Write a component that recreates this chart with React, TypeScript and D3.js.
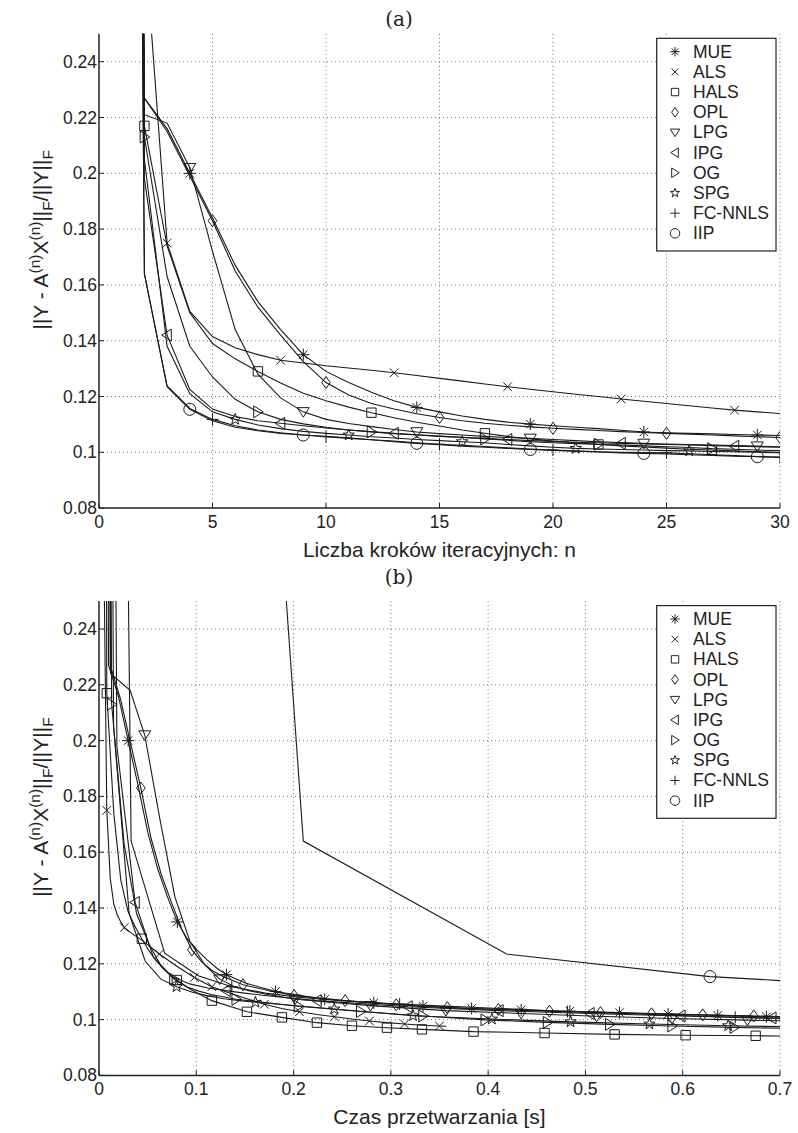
import React from "react";
import * as d3 from "d3";

const W = 798;
const H = 1133;
const X0 = 99;
const X1 = 780;
const PH = 474.3;

const names = ["MUE", "ALS", "HALS", "OPL", "LPG", "IPG", "OG", "SPG", "FC-NNLS", "IIP"];
const symbols = ["*", "x", "s", "d", "v", "<", ">", "p", "+", "o"];
// first iteration carrying a marker in panel (a), then every 5th
const markStartA = [4, 3, 2, 5, 4, 3, 2, 6, 5, 4];

const yTicks = ["0.08", "0.1", "0.12", "0.14", "0.16", "0.18", "0.2", "0.22", "0.24"];
const xTicksA = ["0", "5", "10", "15", "20", "25", "30"];
const xTicksB = ["0", "0.1", "0.2", "0.3", "0.4", "0.5", "0.6", "0.7"];

// panel (a): error vs iteration n = 1..30
const mueA = [1.2, 0.227, 0.216, 0.2, 0.184, 0.167, 0.154, 0.144, 0.135, 0.129, 0.125, 0.1215, 0.1185, 0.1161, 0.1145, 0.113, 0.1118, 0.1108, 0.1101, 0.1095, 0.109, 0.1085, 0.1079, 0.1073, 0.107, 0.1068, 0.1066, 0.1064, 0.1062, 0.106];
const alsA = [1.2, 0.285, 0.175, 0.1505, 0.1415, 0.1375, 0.135, 0.133, 0.132, 0.131, 0.1302, 0.1294, 0.1285, 0.1275, 0.1265, 0.1255, 0.1245, 0.1235, 0.1226, 0.1217, 0.1208, 0.12, 0.1191, 0.1183, 0.1175, 0.1167, 0.1159, 0.1151, 0.1145, 0.1139];
const halsA = [1.2, 0.217, 0.174, 0.15, 0.139, 0.1335, 0.129, 0.1248, 0.1212, 0.1185, 0.1162, 0.1142, 0.1124, 0.1108, 0.1094, 0.108, 0.1068, 0.1057, 0.1048, 0.104, 0.1034, 0.1028, 0.1023, 0.1019, 0.1015, 0.1011, 0.1008, 0.1005, 0.1002, 0.0999];
const oplA = [1.2, 0.227, 0.215, 0.199, 0.183, 0.165, 0.152, 0.142, 0.1325, 0.125, 0.1205, 0.1175, 0.1155, 0.1138, 0.1125, 0.1113, 0.1104, 0.1097, 0.1091, 0.1086, 0.1082, 0.1078, 0.1074, 0.1071, 0.1068, 0.1065, 0.1062, 0.1059, 0.1056, 0.1053];
const lpgA = [1.2, 0.221, 0.218, 0.202, 0.172, 0.144, 0.128, 0.1195, 0.1145, 0.1118, 0.1103, 0.1092, 0.1082, 0.1073, 0.1067, 0.1062, 0.1057, 0.1053, 0.105, 0.1046, 0.1042, 0.1038, 0.1035, 0.1032, 0.103, 0.1028, 0.1026, 0.1024, 0.1022, 0.102];
const ipgA = [1.2, 0.198, 0.142, 0.1225, 0.1155, 0.1128, 0.1113, 0.1104, 0.1095, 0.1087, 0.108, 0.1074, 0.1068, 0.1063, 0.1058, 0.1054, 0.105, 0.1046, 0.1042, 0.1039, 0.1036, 0.1034, 0.1032, 0.103, 0.1028, 0.1026, 0.1024, 0.1022, 0.102, 0.1018];
const ogA = [1.2, 0.213, 0.163, 0.138, 0.127, 0.119, 0.1145, 0.1118, 0.1102, 0.109, 0.108, 0.1073, 0.1067, 0.1062, 0.1057, 0.1053, 0.1048, 0.1043, 0.1038, 0.1034, 0.1031, 0.1029, 0.1026, 0.1023, 0.102, 0.1017, 0.1013, 0.1011, 0.1008, 0.1006];
const spgA = [1.2, 0.205, 0.138, 0.121, 0.1145, 0.1118, 0.1098, 0.1085, 0.1075, 0.1068, 0.1062, 0.1056, 0.1051, 0.1046, 0.1042, 0.1038, 0.1034, 0.1028, 0.1023, 0.1018, 0.1014, 0.1012, 0.101, 0.1008, 0.1006, 0.1005, 0.1003, 0.1002, 0.1, 0.0999];
const fcA = [1.2, 0.164, 0.1238, 0.1157, 0.1118, 0.1095, 0.108, 0.107, 0.1062, 0.1056, 0.105, 0.1045, 0.104, 0.1034, 0.1029, 0.1025, 0.1021, 0.1016, 0.1012, 0.1008, 0.1005, 0.1002, 0.1, 0.0999, 0.0998, 0.0995, 0.0991, 0.0988, 0.0985, 0.0982];
const iipA = [1.2, 0.164, 0.1235, 0.1154, 0.1113, 0.109, 0.1077, 0.1068, 0.1062, 0.1057, 0.1052, 0.1045, 0.1038, 0.1032, 0.1027, 0.1022, 0.1018, 0.1014, 0.101, 0.1007, 0.1004, 0.1001, 0.0998, 0.0996, 0.0994, 0.0991, 0.0989, 0.0986, 0.0984, 0.0982];

// panel (b): [time s, error, marker 0/1]
type Pt = [number, number, number];
const mueB: Pt[] = [[0.0005, 1.2, 0], [0.0098, 0.227, 0], [0.0199, 0.216, 0], [0.03, 0.2, 1], [0.0401, 0.184, 0], [0.0502, 0.167, 0], [0.0603, 0.154, 0], [0.0704, 0.144, 0], [0.0805, 0.135, 1], [0.0906, 0.129, 0], [0.1007, 0.125, 0], [0.1108, 0.1215, 0], [0.1209, 0.1185, 0], [0.131, 0.1161, 1], [0.1512, 0.113, 0], [0.1815, 0.1101, 1], [0.232, 0.1073, 1], [0.2825, 0.106, 1], [0.333, 0.1048, 1], [0.383, 0.104, 1], [0.434, 0.1035, 1], [0.484, 0.103, 1], [0.535, 0.1025, 1], [0.585, 0.102, 1], [0.636, 0.1015, 1], [0.686, 0.101, 1], [0.707, 0.1009, 0]];
const alsB: Pt[] = [[0.0008, 1.2, 0], [0.0044, 0.285, 0], [0.008, 0.175, 1], [0.0116, 0.1505, 0], [0.0152, 0.1415, 0], [0.0188, 0.1375, 0], [0.0224, 0.135, 0], [0.026, 0.133, 1], [0.0332, 0.131, 0], [0.044, 0.1285, 0], [0.062, 0.1235, 1], [0.08, 0.1191, 0], [0.098, 0.1151, 1], [0.116, 0.1118, 1], [0.134, 0.1095, 0], [0.152, 0.1075, 0], [0.17, 0.1055, 1], [0.188, 0.104, 0], [0.206, 0.1028, 1], [0.224, 0.1018, 0], [0.242, 0.101, 1], [0.26, 0.1002, 0], [0.278, 0.0995, 1], [0.296, 0.0989, 0], [0.314, 0.0984, 1], [0.332, 0.098, 0], [0.35, 0.0977, 1], [0.357, 0.0976, 0]];
const halsB: Pt[] = [[0.0008, 1.2, 0], [0.008, 0.217, 1], [0.0152, 0.174, 0], [0.0224, 0.15, 0], [0.0296, 0.139, 0], [0.0368, 0.1335, 0], [0.044, 0.129, 1], [0.0512, 0.1248, 0], [0.0584, 0.1212, 0], [0.0656, 0.1185, 0], [0.0728, 0.1162, 0], [0.08, 0.1142, 1], [0.0944, 0.1108, 0], [0.116, 0.1068, 1], [0.152, 0.1028, 1], [0.188, 0.1008, 1], [0.224, 0.0989, 1], [0.26, 0.0978, 1], [0.296, 0.0971, 1], [0.332, 0.0965, 1], [0.385, 0.0957, 1], [0.458, 0.0952, 1], [0.53, 0.0947, 1], [0.603, 0.0944, 1], [0.675, 0.0942, 1], [0.71, 0.0941, 0]];
const oplB: Pt[] = [[0.001, 1.2, 0], [0.0115, 0.227, 0], [0.022, 0.215, 0], [0.0325, 0.199, 0], [0.043, 0.183, 1], [0.0535, 0.165, 0], [0.064, 0.152, 0], [0.0745, 0.142, 0], [0.085, 0.1325, 0], [0.0955, 0.125, 1], [0.106, 0.1205, 0], [0.1165, 0.1175, 0], [0.127, 0.1155, 0], [0.148, 0.1125, 1], [0.174, 0.1104, 0], [0.2005, 0.1086, 1], [0.253, 0.1068, 1], [0.3055, 0.1053, 1], [0.358, 0.1043, 1], [0.4105, 0.1036, 1], [0.463, 0.103, 1], [0.5155, 0.1025, 1], [0.568, 0.1021, 1], [0.6205, 0.1017, 1], [0.673, 0.1013, 1], [0.7045, 0.1011, 0]];
const lpgB: Pt[] = [[0.0005, 1.2, 0], [0.012, 0.224, 0], [0.032, 0.218, 0], [0.047, 0.202, 1], [0.0625, 0.172, 0], [0.078, 0.144, 0], [0.0935, 0.128, 0], [0.109, 0.1195, 0], [0.124, 0.1145, 1], [0.1395, 0.1118, 0], [0.155, 0.1103, 0], [0.1705, 0.1092, 0], [0.2015, 0.1073, 1], [0.279, 0.105, 1], [0.3565, 0.1032, 1], [0.434, 0.1022, 1], [0.5115, 0.1012, 1], [0.589, 0.1004, 1], [0.6665, 0.0998, 1], [0.713, 0.0995, 0]];
const ipgB: Pt[] = [[0.0005, 1.2, 0], [0.0184, 0.198, 0], [0.0371, 0.142, 1], [0.0558, 0.1225, 0], [0.0745, 0.1155, 0], [0.0932, 0.1128, 0], [0.1119, 0.1113, 0], [0.1306, 0.1104, 1], [0.1493, 0.1095, 0], [0.168, 0.1087, 0], [0.2241, 0.1068, 1], [0.3176, 0.1046, 1], [0.4111, 0.1032, 1], [0.5046, 0.1022, 1], [0.5981, 0.1013, 1], [0.6916, 0.1006, 1], [0.7103, 0.1005, 0]];
const ogB: Pt[] = [[0.0005, 1.2, 0], [0.013, 0.213, 1], [0.0258, 0.163, 0], [0.0386, 0.138, 0], [0.0514, 0.127, 0], [0.0642, 0.119, 0], [0.077, 0.1145, 1], [0.0898, 0.1118, 0], [0.1026, 0.1102, 0], [0.1154, 0.109, 0], [0.141, 0.1073, 1], [0.205, 0.1048, 1], [0.269, 0.1029, 1], [0.333, 0.1013, 1], [0.397, 0.0999, 1], [0.461, 0.099, 1], [0.525, 0.0983, 1], [0.589, 0.0977, 1], [0.653, 0.0972, 1], [0.717, 0.0968, 0]];
const spgB: Pt[] = [[0.0005, 1.2, 0], [0.015, 0.205, 0], [0.031, 0.138, 0], [0.0474, 0.121, 0], [0.0636, 0.1145, 0], [0.0798, 0.1118, 1], [0.096, 0.1098, 0], [0.1122, 0.1085, 0], [0.1284, 0.1075, 0], [0.1446, 0.1068, 0], [0.1608, 0.1062, 1], [0.2418, 0.1038, 1], [0.3228, 0.1014, 1], [0.4038, 0.1002, 1], [0.4848, 0.0992, 1], [0.5658, 0.0984, 1], [0.6468, 0.0978, 1], [0.7116, 0.0974, 0]];
const fcB: Pt[] = [[0.0005, 1.2, 0], [0.033, 0.164, 0], [0.0675, 0.1238, 0], [0.102, 0.1157, 0], [0.1365, 0.1118, 1], [0.171, 0.1095, 0], [0.2055, 0.108, 0], [0.24, 0.107, 0], [0.2745, 0.1062, 0], [0.309, 0.1056, 1], [0.3435, 0.105, 0], [0.378, 0.1045, 0], [0.4125, 0.104, 0], [0.447, 0.1034, 0], [0.4815, 0.1029, 1], [0.516, 0.1025, 0], [0.5505, 0.1021, 0], [0.585, 0.1016, 0], [0.6195, 0.1012, 0], [0.654, 0.1008, 1], [0.6885, 0.1005, 0], [0.723, 0.1002, 0]];
const iipB: Pt[] = [[0, 1.2, 0], [0.21, 0.164, 0], [0.419, 0.1235, 0], [0.628, 0.1154, 1], [0.837, 0.1113, 0]];

const valuesA = [mueA, alsA, halsA, oplA, lpgA, ipgA, ogA, spgA, fcA, iipA];
const valuesB = [mueB, alsB, halsB, oplB, lpgB, ipgB, ogB, spgB, fcB, iipB];

const FONT = "'Liberation Sans', Arial, Helvetica, sans-serif";

function markerPath(sym: string, s: number): string {
  const h = s / 2;
  switch (sym) {
    case "o":
      return `M${h},0A${h},${h} 0 1,1 ${-h},0A${h},${h} 0 1,1 ${h},0Z`;
    case "s": {
      const a = h * 0.78;
      return `M${-a},${-a}H${a}V${a}H${-a}Z`;
    }
    case "d":
      return `M0,${-h}L${h * 0.72},0L0,${h}L${-h * 0.72},0Z`;
    case "v":
      return `M${-h},${-h * 0.7}L${h},${-h * 0.7}L0,${h * 0.9}Z`;
    case "<":
      return `M${h * 0.7},${-h}L${h * 0.7},${h}L${-h * 0.9},0Z`;
    case ">":
      return `M${-h * 0.7},${-h}L${-h * 0.7},${h}L${h * 0.9},0Z`;
    case "p": {
      const pts = d3.range(10).map((i) => {
        const r = i % 2 === 0 ? h : h * 0.4;
        const a = -Math.PI / 2 + (i * Math.PI) / 5;
        return `${(r * Math.cos(a)).toFixed(2)},${(r * Math.sin(a)).toFixed(2)}`;
      });
      return "M" + pts.join("L") + "Z";
    }
    case "+":
      return `M${-h},0H${h}M0,${-h}V${h}`;
    case "x": {
      const a = h * 0.72;
      return `M${-a},${-a}L${a},${a}M${-a},${a}L${a},${-a}`;
    }
    default: {
      const a = h * 0.7;
      return `M${-h},0H${h}M0,${-h}V${h}M${-a},${-a}L${a},${a}M${-a},${a}L${a},${-a}`;
    }
  }
}

type Line = { pts: [number, number][]; marks: [number, number][] };

function Panel(props: {
  top: number;
  xMax: number;
  xTicks: string[];
  xLabel: string;
  title: string;
  titleY: number;
  lines: Line[];
  id: string;
}) {
  const { top, xMax, xTicks, xLabel, title, titleY, lines, id } = props;
  const bottom = top + PH;
  const x = d3.scaleLinear().domain([0, xMax]).range([X0, X1]);
  const y = d3.scaleLinear().domain([0.08, 0.25]).range([bottom, top]);
  const line = d3
    .line<[number, number]>()
    .x((d) => x(d[0]))
    .y((d) => y(d[1]));

  const legTop = top + 4.5;
  const legStep = 20.18;
  const labelY = top + 206;

  return (
    <g>
      <defs>
        <clipPath id={id}>
          <rect x={X0} y={top} width={X1 - X0} height={PH} />
        </clipPath>
      </defs>
      <text x={399} y={titleY} textAnchor="middle" fontFamily="'DejaVu Serif', 'Liberation Serif', serif" fontSize={20} fill="#222">
        {title}
      </text>
      {/* grid */}
      {xTicks.map((t) =>
        +t === 0 ? null : (
          <line key={"gx" + t} x1={x(+t)} x2={x(+t)} y1={top} y2={bottom} stroke="#777" strokeWidth={1} strokeDasharray="1,3" />
        )
      )}
      {yTicks.map((t) =>
        +t === 0.08 ? null : (
          <line key={"gy" + t} x1={X0} x2={X1} y1={y(+t)} y2={y(+t)} stroke="#777" strokeWidth={1} strokeDasharray="1,3" />
        )
      )}
      {/* series */}
      <g clipPath={`url(#${id})`}>
        {lines.map((l, i) => (
          <path key={"l" + i} d={line(l.pts) || ""} fill="none" stroke="#1a1a1a" strokeWidth={1.1} />
        ))}
        {lines.map((l, i) =>
          l.marks.map((m, j) => (
            <path
              key={"m" + i + "-" + j}
              d={markerPath(symbols[i], 12)}
              transform={`translate(${x(m[0])},${y(m[1])})`}
              fill="none"
              stroke="#1a1a1a"
              strokeWidth={1}
            />
          ))
        )}
      </g>
      {/* axes */}
      <line x1={X0} x2={X0} y1={top} y2={bottom} stroke="#222" strokeWidth={1.5} />
      <line x1={X0} x2={X1} y1={bottom} y2={bottom} stroke="#222" strokeWidth={1.5} />
      {xTicks.map((t) => (
        <g key={"tx" + t}>
          <line x1={x(+t)} x2={x(+t)} y1={bottom} y2={bottom - 5} stroke="#222" strokeWidth={1} />
          <text x={x(+t)} y={bottom + 20} textAnchor="middle" fontFamily={FONT} fontSize={17.5} fill="#222">
            {t}
          </text>
        </g>
      ))}
      {yTicks.map((t) => (
        <g key={"ty" + t}>
          <line x1={X0} x2={X0 + 5} y1={y(+t)} y2={y(+t)} stroke="#222" strokeWidth={1} />
          <text x={X0 - 2} y={y(+t) + 6} textAnchor="end" fontFamily={FONT} fontSize={17.5} fill="#222">
            {t}
          </text>
        </g>
      ))}
      <text x={(X0 + X1) / 2} y={bottom + 49} textAnchor="middle" fontFamily={FONT} fontSize={21} fill="#222">
        {xLabel}
      </text>
      <text transform={`translate(48,${labelY}) rotate(-90)`} textAnchor="middle" fontFamily={FONT} fontSize={21} fill="#222">
        ||Y - A
        <tspan dy={-8} fontSize={15.5}>{"(n)"}</tspan>
        <tspan dy={8}>X</tspan>
        <tspan dy={-8} fontSize={15.5}>{"(n)"}</tspan>
        <tspan dy={8}>||</tspan>
        <tspan dy={5} fontSize={15.5}>F</tspan>
        <tspan dy={-5}>/||Y||</tspan>
        <tspan dy={5} fontSize={15.5}>F</tspan>
      </text>
      {/* legend */}
      <rect x={656.7} y={legTop} width={119.3} height={212.7} fill="#fff" stroke="#222" strokeWidth={1.2} />
      {names.map((n, i) => (
        <g key={"lg" + n} transform={`translate(0,${legTop + 13.4 + i * legStep})`}>
          <path d={markerPath(symbols[i], 9.5)} transform="translate(675,0)" fill="none" stroke="#222" strokeWidth={1} />
          <text x={693} y={6} fontFamily={FONT} fontSize={17.5} fill="#222">
            {n}
          </text>
        </g>
      ))}
    </g>
  );
}

export default function App() {
  const iterations = d3.range(1, 31);
  const linesA: Line[] = valuesA.map((vals, i) => {
    const pts = vals.map((v, k) => [iterations[k], v] as [number, number]);
    const marks = pts.filter((p) => p[0] >= markStartA[i] && (p[0] - markStartA[i]) % 5 === 0);
    return { pts, marks };
  });
  const linesB: Line[] = valuesB.map((rows) => ({
    pts: rows.map((r) => [r[0], r[1]] as [number, number]),
    marks: rows.filter((r) => r[2] === 1).map((r) => [r[0], r[1]] as [number, number]),
  }));

  return (
    <svg width={W} height={H} style={{ position: "absolute", left: 0, top: 0, background: "#fff" }}>
      <rect width={W} height={H} fill="#fff" />
      <Panel top={33.8} xMax={30} xTicks={xTicksA} xLabel="Liczba kroków iteracyjnych: n" title="(a)" titleY={26} lines={linesA} id="clipA" />
      <Panel top={601.1} xMax={0.7} xTicks={xTicksB} xLabel="Czas przetwarzania [s]" title="(b)" titleY={584} lines={linesB} id="clipB" />
    </svg>
  );
}
